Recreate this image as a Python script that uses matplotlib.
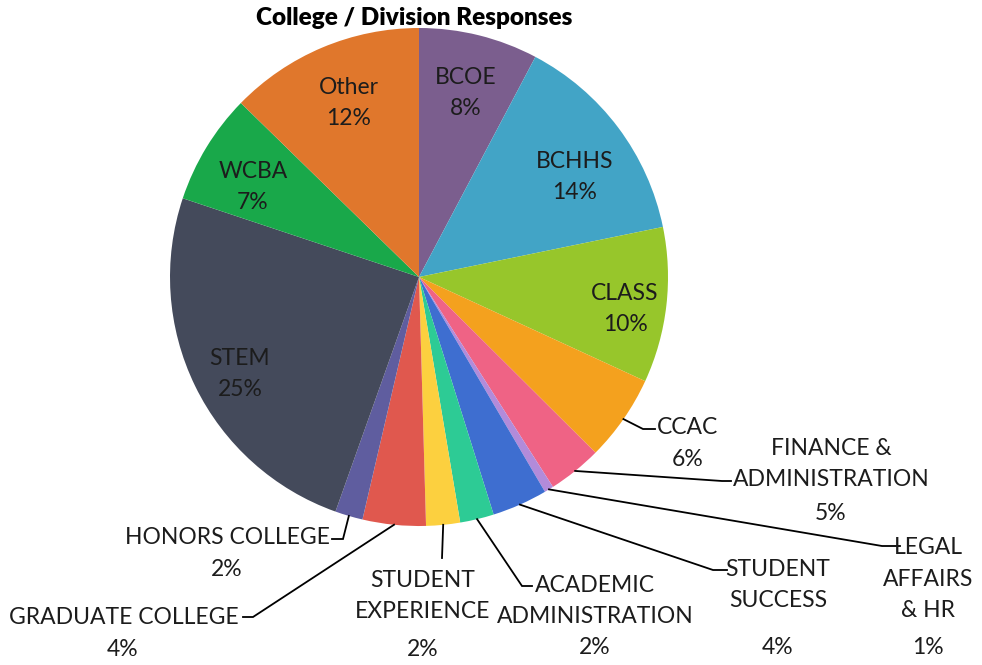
import numpy as np
import matplotlib.pyplot as plt

# Datos del gráfico
categorias = ["BCOE", "BCHHS", "CLASS", "CCAC", "FINANCE &\nADMINISTRATION",
              "LEGAL\nAFFAIRS\n& HR", "STUDENT\nSUCCESS", "ACADEMIC\nADMINISTRATION",
              "STUDENT\nEXPERIENCE", "GRADUATE COLLEGE", "HONORS COLLEGE",
              "STEM", "WCBA", "Other"]
valores = [7.75, 14.05, 10.1, 5.6, 3.5, 0.6, 3.6, 2.2, 2.2, 4.1, 1.8, 24.7, 7.2, 12.7]
etiquetas_pct = ["8%", "14%", "10%", "6%", "5%", "1%", "4%", "2%", "2%", "4%", "2%", "25%", "7%", "12%"]
colores = ["#7B5E8E", "#42A4C6", "#97C62B", "#F4A11E", "#EF6385", "#B28BDA", "#3E6ED0",
           "#2DCB95", "#FCD03F", "#E0584E", "#5F5D9F", "#444A5B", "#19A84A", "#E0772C"]

W, H = 982, 665
CX, CY, R = 419, 277, 249  # centro y radio del pie en pixeles


def px(x, y):
    # pixeles de la imagen -> coordenadas del eje
    return (x - CX) / R, (CY - y) / R


plt.rcParams['font.family'] = ['Lato', 'DejaVu Sans']
fig = plt.figure(figsize=(W / 100, H / 100), dpi=100)
ax = fig.add_axes([(CX - R) / W, (H - CY - R) / H, 2 * R / W, 2 * R / H])

wedges, _ = ax.pie(valores, colors=colores, startangle=90, counterclock=False,
                   radius=1, wedgeprops=dict(linewidth=0))
ax.set_aspect('auto')
ax.set_xlim(-1, 1)
ax.set_ylim(-1, 1)
ax.axis('off')

fs = 16.5
color_txt = "#1c1c1c"
ls = 1.6

# Etiquetas dentro del pie: (indice, posicion en pixeles)
dentro = {0: (466, 93), 1: (575, 177), 2: (625, 309), 11: (240, 374), 12: (253, 187), 13: (349, 103)}
for i, (x, y) in dentro.items():
    ax.text(*px(x, y), categorias[i] + "\n" + etiquetas_pct[i], ha='center', va='center',
            fontsize=fs, color=color_txt, linespacing=ls)

# Etiquetas fuera: indice -> (centro nombre, centro pct, codo, final de la linea)
fuera = {
    3: ((688, 428), (688, 460), (643, 429), (655, 429)),
    4: ((831, 464), (831, 513), (722, 481), (731, 481)),
    5: ((928, 579), (928, 648), (882, 546), (900, 546)),
    6: ((778, 585), (778, 648), (713, 570), (727, 570)),
    7: ((595, 601), (595, 648), (522, 586), (532, 586)),
    8: ((423, 596), (423, 650), (442, 558), (442, 558)),
    9: ((124, 617), (123, 650), (253, 617), (243, 617)),
    10: ((227, 537), (227, 570), (343, 539), (332, 539)),
}
for i, (pos_nom, pos_pct, codo, fin) in fuera.items():
    w = wedges[i]
    ang = np.deg2rad((w.theta1 + w.theta2) / 2)
    x0, y0 = np.cos(ang), np.sin(ang)
    xs = [x0, px(*codo)[0], px(*fin)[0]]
    ys = [y0, px(*codo)[1], px(*fin)[1]]
    ax.plot(xs, ys, color="black", lw=1.3, clip_on=False, solid_joinstyle='miter')
    ax.text(*px(*pos_nom), categorias[i], ha='center', va='center', fontsize=fs,
            color=color_txt, linespacing=ls)
    ax.text(*px(*pos_pct), etiquetas_pct[i], ha='center', va='center', fontsize=fs,
            color=color_txt)

fig.text(414 / W, 1 - 18 / H, "College / Division Responses", ha='center', va='center',
         fontsize=17.5, fontweight='heavy', color="black")

fig.savefig("out.png", dpi=100, facecolor="white")
